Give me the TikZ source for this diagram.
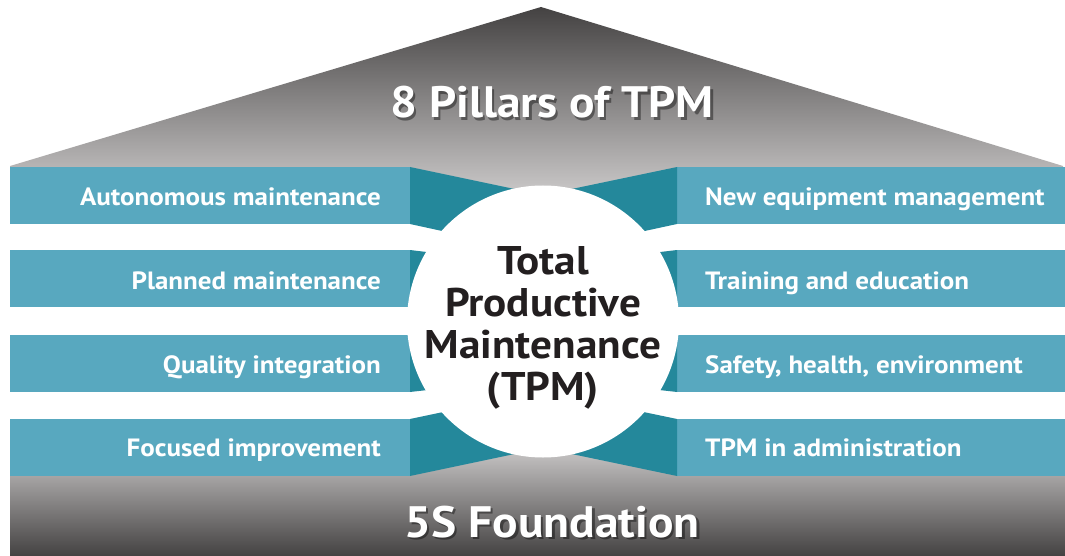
\documentclass[tikz,border=0pt]{standalone}
\usepackage{fontspec}
\setmainfont{PT Sans}[FakeStretch=1.08]
\definecolor{lteal}{HTML}{58A8BF}
\definecolor{dteal}{HTML}{24889B}
\definecolor{greydark}{HTML}{444242}
\definecolor{greylight}{HTML}{D2D0D0}
\definecolor{txtdark}{HTML}{231F20}
\tikzset{
  barbox/.style={fill=lteal, draw=none, minimum height=57pt, inner sep=0pt, outer sep=0pt},
  barlabel/.style={text=white, font=\fontsize{25}{28}\selectfont\bfseries, inner sep=0pt},
  title/.style={text=white, font=\fontsize{44}{48}\selectfont\bfseries, inner sep=0pt},
  titleshadow/.style={text=black, opacity=0.4, font=\fontsize{44}{48}\selectfont\bfseries, inner sep=0pt},
}
\begin{document}
\begin{tikzpicture}[x=1pt,y=-1pt]
\useasboundingbox (0,0) rectangle (1065,556);
% roof
\shade[top color=greydark, bottom color=greylight]
  (10,166) -- (541,7) -- (1063,166) -- (1063,205) -- (10,205) -- cycle;
% foundation
\shade[top color=greylight, bottom color=greydark]
  (10,440) rectangle (1065,556);
% bars left
\node[barbox, anchor=north west, minimum width=400pt] (l1) at (10,167) {};
\node[barbox, anchor=north west, minimum width=400pt] (l2) at (10,250) {};
\node[barbox, anchor=north west, minimum width=400pt] (l3) at (10,335) {};
\node[barbox, anchor=north west, minimum width=400pt] (l4) at (10,419) {};
% bars right
\node[barbox, anchor=north west, minimum width=388pt] (r1) at (677,167) {};
\node[barbox, anchor=north west, minimum width=388pt] (r2) at (677,250) {};
\node[barbox, anchor=north west, minimum width=388pt] (r3) at (677,335) {};
\node[barbox, anchor=north west, minimum width=388pt] (r4) at (677,419) {};
% dark teal connectors
\fill[dteal] (l1.north east) -- (543,195) -- (r1.north west) -- (r1.south west) -- (543,253) -- (l1.south east) -- cycle;
\fill[dteal] (l2.north east) -- (543,266) -- (r2.north west) -- (r2.south west) -- (543,324) -- (l2.south east) -- cycle;
\fill[dteal] (l3.north east) -- (543,319) -- (r3.north west) -- (r3.south west) -- (543,377) -- (l3.south east) -- cycle;
\fill[dteal] (l4.north east) -- (543,391) -- (r4.north west) -- (r4.south west) -- (543,448) -- (l4.south east) -- cycle;
% circle
\node[circle, fill=white, minimum size=272pt, inner sep=0pt] (c) at (543,321.5) {};
\node[text=txtdark, align=center, font=\fontsize{40}{42}\selectfont\bfseries, inner sep=0pt] (ct) at (543,328) {Total\\Productive\\Maintenance\\(TPM)};
% labels
\node[barlabel, anchor=base east] (tl1) at (381,205.5) {Autonomous maintenance};
\node[barlabel, anchor=base east] (tl2) at (381,289) {Planned maintenance};
\node[barlabel, anchor=base east] (tl3) at (381,373.5) {Quality integration};
\node[barlabel, anchor=base east] (tl4) at (381,456.5) {Focused improvement};
\node[barlabel, anchor=base west] (tr1) at (705,205.5) {New equipment management};
\node[barlabel, anchor=base west] (tr2) at (705,289) {Training and education};
\node[barlabel, anchor=base west] (tr3) at (705,373.5) {Safety, health, environment};
\node[barlabel, anchor=base west] (tr4) at (705,456.5) {TPM in administration};
% titles
\node[titleshadow, anchor=base] at (554.5,120.5) {8 Pillars of TPM};
\node[title, anchor=base] (top) at (552,118) {8 Pillars of TPM};
\node[titleshadow, anchor=base] at (554.5,539.5) {5S Foundation};
\node[title, anchor=base] (bottom) at (552,537) {5S Foundation};
\end{tikzpicture}
\end{document}
